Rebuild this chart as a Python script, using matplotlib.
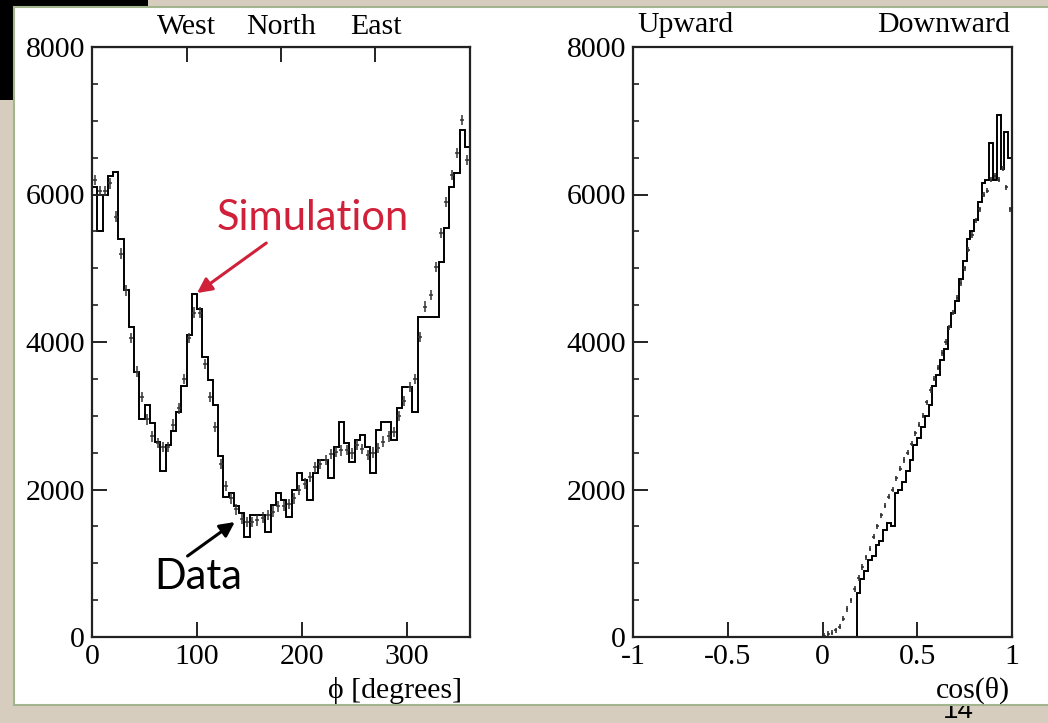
import numpy as np
import matplotlib
matplotlib.use('Agg')
import matplotlib.pyplot as plt
from matplotlib.patches import Rectangle

plt.rcParams['font.family'] = ['Liberation Serif', 'DejaVu Serif']

# phi distribution, 5 degree bins
phi_edges = np.arange(0, 361, 5)
sim_phi = [
    6100, 5500, 6000, 6250, 6300, 5400, 4700, 4200, 3600, 2950,
    3150, 2900, 2650, 2250, 2600, 2800, 3050, 3400, 4100, 4650,
    4450, 3800, 3480, 3150, 2450, 1900, 1950, 1780, 1680, 1350,
    1650, 1650, 1650, 1420, 1790, 1950, 1860, 1630, 1990, 2220,
    2130, 1860, 2220, 2400, 2400, 2160, 2580, 2920, 2630, 2370,
    2670, 2740, 2580, 2220, 2810, 2920, 2920, 2670, 3100, 3390,
    3390, 3050, 4340, 4340, 4340, 4340, 5090, 5550, 6100, 6290,
    6880, 6650]
data_phi = [
    6200, 6050, 6050, 6150, 5700, 5200, 4700, 4050, 3600, 3250,
    2950, 2720, 2630, 2580, 2580, 2880, 3100, 3500, 4050, 4400,
    4400, 3700, 3250, 2850, 2350, 2050, 1880, 1730, 1600, 1560,
    1560, 1580, 1620, 1650, 1700, 1770, 1780, 1800, 1880, 1990,
    2080, 2170, 2300, 2350, 2400, 2480, 2510, 2530, 2540, 2490,
    2600, 2550, 2470, 2500, 2560, 2650, 2720, 2780, 3000, 3200,
    3390, 3500, 4070, 4480, 4640, 5020, 5480, 5900, 6260, 6560,
    7010, 6470]

# cos(theta) distribution, 0.02 bins
cos_edges = np.round(np.arange(0.18, 1.0001, 0.02), 2)
sim_cos = [
    600, 780, 900, 1050, 1100, 1250, 1300, 1450, 1550, 1500,
    1950, 2000, 2100, 2250, 2400, 2600, 2700, 2850, 3000, 3150,
    3400, 3550, 3750, 3900, 4200, 4400, 4550, 4850, 5100, 5400,
    5500, 5650, 5900, 6150, 6200, 6700, 6200, 7080, 6350, 6850,
    6500]
cos_centers = np.round(np.arange(0.01, 1.0, 0.02), 2)
data_cos = [
    20, 40, 60, 90, 140, 250, 380, 500, 650, 800,
    950, 1080, 1200, 1360, 1500, 1650, 1780, 1900, 2000, 2150,
    2280, 2400, 2500, 2620, 2760, 2880, 3000, 3180, 3350, 3500,
    3650, 3850, 4000, 4200, 4400, 4600, 4800, 5000, 5250, 5450,
    5650, 5800, 6000, 6050, 6200, 6250, 6200, 6350, 6100, 5800]

W, H = 1048, 723
red = '#d0203a'
fs = 21.5

fig = plt.figure(figsize=(W / 100, H / 100), dpi=100)
fig.patch.set_facecolor('#d6cdbf')

# slide decorations
fig.add_artist(Rectangle((0, 1 - 100 / H), 148 / W, 100 / H, transform=fig.transFigure,
                         facecolor='black', edgecolor='none', zorder=-3))
fig.text(958 / W, 1 - 711 / H, '14', ha='center', va='center', fontsize=20,
         family=['Liberation Sans', 'DejaVu Sans'], zorder=-2)
fig.add_artist(Rectangle((14 / W, 1 - 705 / H), 1.0, 698 / H, transform=fig.transFigure,
                         facecolor='white', edgecolor='#a3b58f', lw=1.5, zorder=-1))


def style(ax):
    for s in ax.spines.values():
        s.set_linewidth(1.6)
        s.set_color('#222222')
    ax.set_ylim(0, 8000)
    ax.set_yticks([0, 2000, 4000, 6000, 8000])
    ax.set_yticks(np.arange(0, 8001, 500), minor=True)
    ax.tick_params(which='major', direction='in', length=11, width=1.4,
                   labelsize=fs, pad=5, colors='#222222', labelcolor='black')
    ax.tick_params(which='minor', direction='in', length=4.5, width=1.2,
                   colors='#222222')
    ax.tick_params(axis='x', which='minor', bottom=False)


ax1 = fig.add_axes([92 / W, 1 - 637 / H, 378 / W, 590 / H])
style(ax1)
ax1.stairs(sim_phi, phi_edges, baseline=None, color='black', lw=1.4)
ax1.errorbar(phi_edges[:-1] + 2.5, data_phi, yerr=70, xerr=1.8, fmt='none',
             ecolor='#333333', elinewidth=1.1)
ax1.set_xlim(0, 360)
ax1.set_xticks([0, 100, 200, 300])
top = ax1.secondary_xaxis('top')
top.set_xticks([90, 180, 270], labels=['West', 'North', 'East'])
top.tick_params(direction='in', length=11, width=1.4, labelsize=fs, pad=5,
                colors='#222222', labelcolor='black')
ax1.text(0.979, -0.09, 'ϕ [degrees]', transform=ax1.transAxes, ha='right',
         va='center', fontsize=fs)

ax1.annotate('', xy=(100, 4664), xytext=(166, 5342),
             arrowprops=dict(arrowstyle='-|>', color=red, lw=2.2, mutation_scale=22,
                             shrinkA=0, shrinkB=0))
ax1.text(210, 5680, 'Simulation', color=red, fontsize=30, family=['Lato', 'DejaVu Sans'],
         ha='center', va='center')
ax1.annotate('', xy=(136, 1559), xytext=(91, 1098),
             arrowprops=dict(arrowstyle='-|>', color='black', lw=2.2, mutation_scale=22,
                             shrinkA=0, shrinkB=0))
ax1.text(101, 813, 'Data', color='black', fontsize=30, family=['Lato', 'DejaVu Sans'],
         ha='center', va='center')

ax2 = fig.add_axes([633 / W, 1 - 637 / H, 379 / W, 590 / H])
style(ax2)
ax2.stairs(sim_cos, cos_edges, baseline=0, color='black', lw=1.4)
ax2.errorbar(cos_centers, data_cos, yerr=35, xerr=0.007, fmt='none',
             ecolor='#333333', elinewidth=1.2)
ax2.set_xlim(-1, 1)
ax2.set_xticks([-1, -0.5, 0, 0.5, 1], labels=['-1', '-0.5', '0', '0.5', '1'])
ax2.text(0.0106, 1.0254, 'Upward', transform=ax2.transAxes, ha='left',
         va='baseline', fontsize=fs)
ax2.text(0.995, 1.0254, 'Downward', transform=ax2.transAxes, ha='right',
         va='baseline', fontsize=fs)
ax2.text(0.995, -0.09, 'cos(θ)', transform=ax2.transAxes, ha='right',
         va='center', fontsize=fs)

fig.savefig('out.png', dpi=100, facecolor=fig.get_facecolor())
